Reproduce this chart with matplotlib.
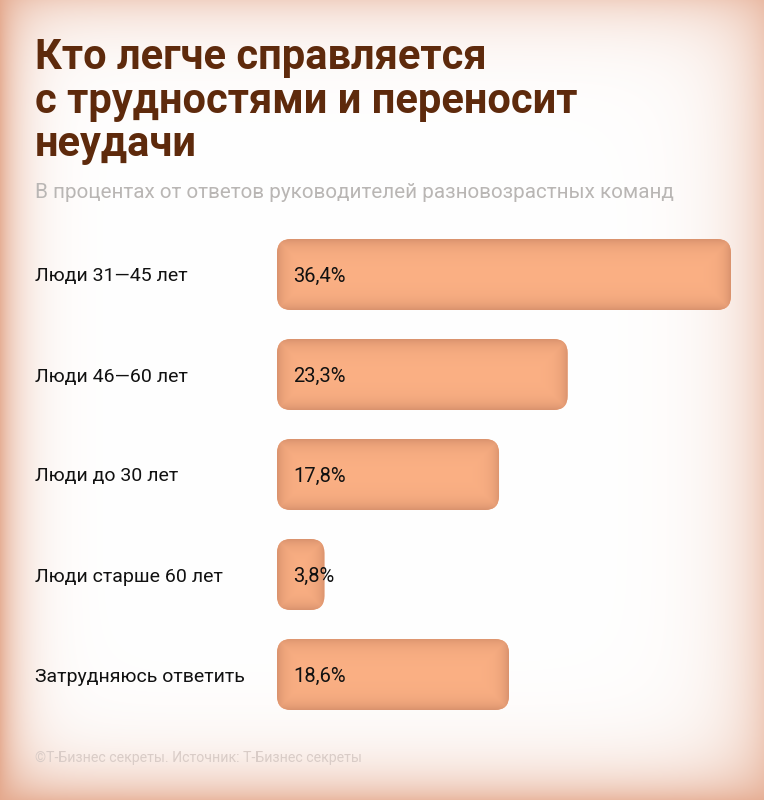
import numpy as np
import matplotlib
matplotlib.use("Agg")
import matplotlib.pyplot as plt
from matplotlib.patches import FancyBboxPatch
from matplotlib import font_manager

categories = ["Люди 31—45 лет", "Люди 46—60 лет", "Люди до 30 лет",
              "Люди старше 60 лет", "Затрудняюсь ответить"]
values = [36.4, 23.3, 17.8, 3.8, 18.6]
value_labels = ["36,4%", "23,3%", "17,8%", "3,8%", "18,6%"]
title_lines = ["Кто легче справляется", "с трудностями и переносит", "неудачи"]
subtitle = "В процентах от ответов руководителей разновозрастных команд"
footer = "©Т-Бизнес секреты. Источник: Т-Бизнес секреты"

names = {f.name for f in font_manager.fontManager.ttflist}
title_font = "Liberation Sans Narrow" if "Liberation Sans Narrow" in names else "Roboto"
body_font = "Roboto"

W, H = 764, 800
fig = plt.figure(figsize=(W / 100, H / 100), dpi=100)

# background vignette
yy, xx = np.mgrid[0:H, 0:W].astype(float)
def edge(d, s):
    return np.exp(-d / s)
wl = edge(xx, 22) * 0.9
wr = edge(W - 1 - xx, 35) * 0.55
wt = edge(yy, 30) * 0.5
wb = edge(H - 1 - yy, 30) * 0.8
w = 1 - (1 - wl) * (1 - wr) * (1 - wt) * (1 - wb)
edge_col = np.array([228, 168, 140]) / 255.0
bg = np.ones((H, W, 3)) * (1 - w[..., None]) + edge_col * w[..., None]
bgax = fig.add_axes([0, 0, 1, 1], zorder=-10)
bgax.imshow(bg, aspect="auto", extent=[0, W, H, 0])
bgax.set_axis_off()

# bar axes: pixel geometry
x0, x1 = 277, 731
y_top, y_bot = 224.5, 724.5
ax = fig.add_axes([x0 / W, 1 - y_bot / H, (x1 - x0) / W, (y_bot - y_top) / H])
ax.set_xlim(0, max(values))
n = len(values)
ax.set_ylim(n - 0.5, -0.5)
ax.set_axis_off()
ax.patch.set_alpha(0)

bar_h = 0.71
px_x = (x1 - x0) / max(values)
px_y = (y_bot - y_top) / n
rad_px = 14
aspect = px_x / px_y

fill = np.array([251, 176, 132]) / 255.0
dark = np.array([208, 138, 103]) / 255.0

bars = ax.barh(range(n), values, height=bar_h, color="none")
for i, (rect, v) in enumerate(zip(bars, values)):
    bx, by = rect.get_x(), rect.get_y()
    bw, bh = rect.get_width(), rect.get_height()
    patch = FancyBboxPatch((bx, by), bw, bh,
                           boxstyle=f"round,pad=0,rounding_size={rad_px / px_x}",
                           mutation_aspect=aspect, facecolor=fill, edgecolor="none")
    ax.add_patch(patch)
    wpx = int(round(bw * px_x)); hpx = int(round(bh * px_y))
    gy, gx = np.mgrid[0:hpx, 0:wpx].astype(float)
    d = np.minimum.reduce([gx + 0.5, wpx - gx - 0.5, gy + 0.5, hpx - gy - 0.5])
    s = np.exp(-d / 8.0) * 0.8
    img = fill * (1 - s[..., None]) + dark * s[..., None]
    im = ax.imshow(img, extent=[bx, bx + bw, by + bh, by], aspect="auto",
                   interpolation="bilinear", zorder=2)
    im.set_clip_path(patch)
    ax.text(16 / px_x, i + 0.02, value_labels[i], fontsize=14.5, family=body_font,
            color="#111111", va="center", ha="left", zorder=3)
    fig.text(35 / W, 1 - (y_top + (i + 0.52) * px_y) / H, categories[i],
             fontsize=14, family=body_font, color="#111111", va="center", ha="left")

# title
for k, line in enumerate(title_lines):
    fig.text(35 / W, 1 - (69 + 43.5 * k) / H, line, fontsize=30, fontweight="bold",
             family=title_font, color="#5E2A0C", va="baseline", ha="left")
fig.text(35 / W, 1 - 198 / H, subtitle, fontsize=14.9, family=body_font,
         color="#B9B6B4", va="baseline", ha="left")
fig.text(35 / W, 1 - 762 / H, footer, fontsize=10.2, family=body_font,
         color="#D9CCC7", va="baseline", ha="left")

fig.savefig("out.png", dpi=100)
